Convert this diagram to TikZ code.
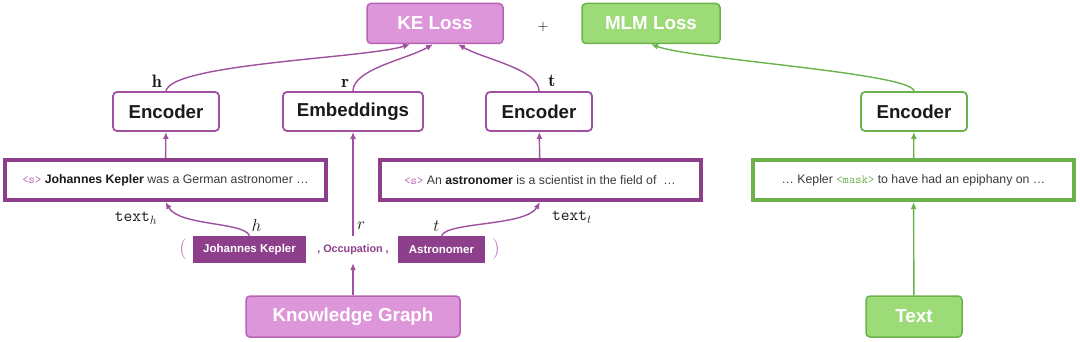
\documentclass[tikz,border=0pt]{standalone}
\usepackage{fontspec}
\setsansfont{Liberation Sans}
\usetikzlibrary{arrows.meta}
\definecolor{kpdeep}{HTML}{8E3F8C}
\definecolor{kpplum}{HTML}{A050A0}
\definecolor{kppink}{HTML}{DE96DA}
\definecolor{kppinkline}{HTML}{B863B5}
\definecolor{kpgreen}{HTML}{9CDB78}
\definecolor{kpgreenline}{HTML}{6CB24C}
\definecolor{kpink}{HTML}{1A1A1A}
\definecolor{kpgray}{HTML}{3A3A3A}
\tikzset{
  kp loss/.style={draw=#1line, fill=#1, line width=1.5pt, rounded corners=4pt,
    minimum width=136pt, minimum height=40pt, text=white,
    font=\sffamily\bfseries\fontsize{18.8}{21}\selectfont},
  kp encoder/.style={draw=#1, fill=white, line width=1.8pt, rounded corners=4pt,
    minimum width=106pt, minimum height=39pt, text=kpink,
    font=\sffamily\bfseries\fontsize{18.7}{21}\selectfont},
  kp sentence/.style={draw=#1, fill=white, line width=4pt, minimum width=321pt,
    minimum height=40pt, text=kpgray, font=\sffamily\fontsize{12.3}{14}\selectfont},
  kp entity/.style={fill=kpdeep, text=white, minimum height=27pt,
    font=\sffamily\bfseries\fontsize{11.5}{13}\selectfont},
  kp arrow/.style={-{Latex[length=7pt,width=6pt]}, line width=1.4pt, draw=#1},
  kp label/.style={text=kpink, font=\fontsize{18}{20}\selectfont},
  kp paren/.style={text=kppinkline, font=\fontsize{21}{23}\selectfont}
}

\begin{document}
\begin{tikzpicture}[x=1pt, y=-1pt]
  \useasboundingbox (0,0) rectangle (1080,342);
  % losses
  \node[kp loss=kppink] (keloss) at (435,23.5) {KE Loss};
  \node[kp loss=kpgreen, minimum width=138pt] (mlmloss) at (651,23.5) {MLM Loss};
  \node[text=black, font=\fontsize{14}{16}\selectfont] (plus) at (543,26.5) {$\mathbf{+}$};
  % encoders
  \node[kp encoder=kpplum] (encH) at (166,111.5) {Encoder};
  \node[kp encoder=kpplum, minimum width=140pt] (embed) at (353,111.5) {Embeddings};
  \node[kp encoder=kpplum] (encT) at (539,111.5) {Encoder};
  \node[kp encoder=kpgreenline] (encM) at (914,111.5) {Encoder};
  % input sentences
  \node[kp sentence=kpdeep] (textH) at (165.5,180)
    {{\ttfamily\color{kppinkline}<s>} \textbf{\color{kpink}Johannes Kepler} was a German astronomer …};
  \node[kp sentence=kpdeep] (textT) at (540,180)
    {{\ttfamily\color{kppinkline}<s>} An \textbf{\color{kpink}astronomer} is a scientist in the field of\ \ …};
  \node[kp sentence=kpgreenline] (textM) at (913.5,180)
    {… Kepler {\ttfamily\color{kpgreenline}<mask>} to have had an epiphany on …};
  % triple
  \node[kp paren] (lpar) at (183,249) {(};
  \node[kp entity, minimum width=113pt] (head) at (249.5,249.5) {Johannes Kepler};
  \node[minimum height=27pt, text=kpdeep, font=\sffamily\bfseries\fontsize{10.8}{13}\selectfont]
    (rel) at (353,249.5) {, Occupation ,};
  \node[kp entity, minimum width=87pt] (tail) at (441.5,249.5) {Astronomer};
  \node[kp paren] (rpar) at (496,249) {)};
  % sources
  \node[kp loss=kppink, minimum width=214pt, minimum height=41pt] (kg) at (353,316.5) {Knowledge Graph};
  \node[kp loss=kpgreen, minimum width=96pt, minimum height=41pt] (txt) at (914,316.5) {Text};

  % connectors
  \draw[kp arrow=kpplum] (kg) -- (rel);
  \draw[kp arrow=kpplum] (rel) -- (embed)
    node[pos=0.1, right, kp label] {$r$};
  \draw[kp arrow=kpplum] (head.north) to[out=110, in=-60, out distance=15pt, in distance=28pt]
    node[pos=0, above right, kp label, xshift=-2pt] {$h$} (textH.south);
  \draw[kp arrow=kpplum] (tail.north) to[out=70, in=-120, out distance=15pt, in distance=28pt]
    node[pos=0, above left, kp label, xshift=2pt] {$t$} (textT.south);
  \draw[kp arrow=kpplum] (textH) -- (encH);
  \draw[kp arrow=kpplum] (textT) -- (encT);
  \draw[kp arrow=kpgreenline] (txt) -- (textM);
  \draw[kp arrow=kpgreenline] (textM) -- (encM);
  \draw[kp arrow=kpplum] (encH.north) to[out=80, in=-162, out distance=28pt, in distance=45pt]
    node[pos=0, above left, kp label] {$\mathbf{h}$} ([xshift=-25pt]keloss.south);
  \draw[kp arrow=kpplum] (embed.north) to[out=90, in=-150, out distance=22pt, in distance=30pt]
    node[pos=0, above left, kp label] {$\mathbf{r}$} ([xshift=-2pt]keloss.south);
  \draw[kp arrow=kpplum] (encT.north) to[out=90, in=-30, out distance=22pt, in distance=30pt]
    node[pos=0, above, kp label, xshift=13pt] {$\mathbf{t}$} ([xshift=23pt]keloss.south);
  \draw[kp arrow=kpgreenline] (encM.north) to[out=95, in=-20, out distance=18pt, in distance=45pt]
    (mlmloss.south);
  % word labels
  \node[kp label, font=\ttfamily\fontsize{17}{20}\selectfont] (wordH) at (136,218) {text$_h$};
  \node[kp label, font=\ttfamily\fontsize{17}{20}\selectfont] (wordT) at (572,217) {text$_t$};
\end{tikzpicture}
\end{document}
